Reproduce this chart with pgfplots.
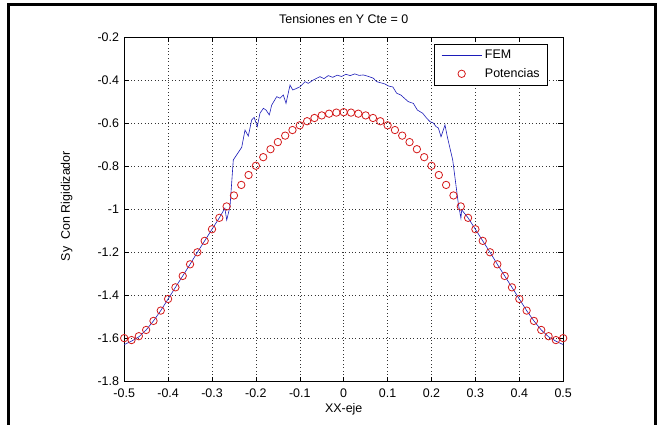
\documentclass[border=0pt]{standalone}
\usepackage{fontspec}
\setmainfont{Liberation Sans}
\usepackage{pgfplots}
\usepackage{pgfplotstable}
\pgfplotsset{compat=1.18}
\definecolor{femblue}{RGB}{28,28,185}
\definecolor{potred}{RGB}{212,25,25}

\pgfplotsset{
  femleg/.style={legend image code/.code={\draw[##1] (0bp,0bp) -- (40bp,0bp);}},
  potleg/.style={legend image code/.code={\draw[##1] plot coordinates {(20bp,0bp)};}},
}

\pgfplotstableread{
x y
-0.5000 -1.628
-0.4833 -1.612
-0.4667 -1.592
-0.4500 -1.560
-0.4333 -1.518
-0.4167 -1.470
-0.4000 -1.416
-0.3833 -1.362
-0.3667 -1.309
-0.3500 -1.255
-0.3333 -1.199
-0.3167 -1.146
-0.3000 -1.092
-0.2833 -1.039
-0.2707 -0.994
-0.2665 -1.049
-0.2590 -0.987
-0.2515 -0.770
-0.2323 -0.711
-0.2248 -0.631
-0.2173 -0.659
-0.2096 -0.584
-0.2040 -0.572
-0.1968 -0.615
-0.1907 -0.553
-0.1830 -0.530
-0.1770 -0.538
-0.1695 -0.561
-0.1640 -0.515
-0.1526 -0.476
-0.1450 -0.483
-0.1376 -0.468
-0.1314 -0.507
-0.1223 -0.422
-0.1160 -0.445
-0.1070 -0.437
-0.0995 -0.430
-0.0880 -0.406
-0.0806 -0.414
-0.0690 -0.398
-0.0540 -0.383
-0.0450 -0.392
-0.0350 -0.378
-0.0250 -0.386
-0.0150 -0.376
-0.0050 -0.382
 0.0050 -0.372
 0.0150 -0.378
 0.0250 -0.370
 0.0350 -0.377
 0.0447 -0.375
 0.0550 -0.381
 0.0674 -0.390
 0.0750 -0.406
 0.0940 -0.417
 0.1016 -0.426
 0.1120 -0.431
 0.1207 -0.460
 0.1300 -0.468
 0.1470 -0.499
 0.1586 -0.507
 0.1677 -0.538
 0.1800 -0.553
 0.1890 -0.576
 0.1966 -0.592
 0.2040 -0.598
 0.2103 -0.615
 0.2155 -0.621
 0.2217 -0.662
 0.2307 -0.607
 0.2360 -0.662
 0.2483 -0.770
 0.2610 -0.971
 0.2670 -1.041
 0.2688 -1.002
 0.2833 -1.039
 0.3000 -1.092
 0.3167 -1.146
 0.3333 -1.199
 0.3500 -1.255
 0.3667 -1.309
 0.3833 -1.362
 0.4000 -1.416
 0.4167 -1.470
 0.4333 -1.518
 0.4500 -1.560
 0.4667 -1.592
 0.4833 -1.612
 0.5000 -1.628
}\femdata

\pgfplotstableread{
x y
-0.5000 -1.598
-0.4833 -1.607
-0.4667 -1.589
-0.4500 -1.560
-0.4333 -1.518
-0.4167 -1.470
-0.4000 -1.416
-0.3833 -1.362
-0.3667 -1.309
-0.3500 -1.255
-0.3333 -1.199
-0.3167 -1.146
-0.3000 -1.092
-0.2833 -1.039
-0.2667 -0.986
-0.2500 -0.935
-0.2333 -0.886
-0.2167 -0.840
-0.2000 -0.797
-0.1833 -0.757
-0.1667 -0.720
-0.1500 -0.687
-0.1333 -0.657
-0.1167 -0.631
-0.1000 -0.609
-0.0833 -0.590
-0.0667 -0.575
-0.0500 -0.563
-0.0333 -0.555
-0.0167 -0.550
 0.0000 -0.548
 0.0167 -0.550
 0.0333 -0.555
 0.0500 -0.563
 0.0667 -0.575
 0.0833 -0.590
 0.1000 -0.609
 0.1167 -0.631
 0.1333 -0.657
 0.1500 -0.687
 0.1667 -0.720
 0.1833 -0.757
 0.2000 -0.797
 0.2167 -0.840
 0.2333 -0.886
 0.2500 -0.935
 0.2667 -0.986
 0.2833 -1.039
 0.3000 -1.092
 0.3167 -1.146
 0.3333 -1.199
 0.3500 -1.255
 0.3667 -1.309
 0.3833 -1.362
 0.4000 -1.416
 0.4167 -1.470
 0.4333 -1.518
 0.4500 -1.560
 0.4667 -1.589
 0.4833 -1.607
 0.5000 -1.598
}\potdata

\begin{document}
\begin{tikzpicture}
\useasboundingbox (0bp,0bp) rectangle (665bp,425bp);
\fill[white] (0bp,0bp) rectangle (665bp,425bp);
\draw[line width=3bp] (8bp,0bp) -- (8bp,420.5bp) -- (655.5bp,420.5bp) -- (655.5bp,0bp);
\begin{axis}[
  at={(124.2bp,43.4bp)}, anchor=south west,
  scale only axis, width=439bp, height=344.3bp,
  xmin=-0.5, xmax=0.5, ymin=-1.8, ymax=-0.2,
  clip=false,
  xtick={-0.5,-0.4,-0.3,-0.2,-0.1,0,0.1,0.2,0.3,0.4,0.5},
  xticklabels={-0.5,-0.4,-0.3,-0.2,-0.1,0,0.1,0.2,0.3,0.4,0.5},
  ytick={-1.8,-1.6,-1.4,-1.2,-1,-0.8,-0.6,-0.4,-0.2},
  yticklabels={-1.8,-1.6,-1.4,-1.2,-1,-0.8,-0.6,-0.4,-0.2},
  tick align=inside, tick pos=both, major tick length=5bp,
  every tick/.style={black, line width=0.6bp},
  grid=major,
  major grid style={dash pattern=on 0.8bp off 2.6bp, black!80, line width=0.6bp},
  axis line style={line width=0.8bp},
  tick label style={font=\fontsize{12.5}{14}\selectfont},
  xticklabel style={inner sep=0pt, anchor=north, yshift=-7.5bp},
  yticklabel style={inner sep=0pt, anchor=east, xshift=-5bp},
  title={Tensiones en Y Cte = 0},
  title style={at={(axis description cs:0.5,1.036)}, anchor=center, yshift=0pt, inner sep=0pt, font=\fontsize{12.5}{14}\selectfont},
  xlabel={XX-eje},
  xlabel style={at={(axis description cs:0.5,-0.080)}, anchor=center, inner sep=0pt, font=\fontsize{12.5}{14}\selectfont},
  ylabel={Sy~~Con Rigidizador},
  ylabel style={at={(axis description cs:-0.131,0.51)}, anchor=center, inner sep=0pt, font=\fontsize{12.5}{14}\selectfont},
  legend style={at={(axis description cs:0.9654,0.9805)}, anchor=north east,
    draw=black, line width=0.7bp, font=\fontsize{12.5}{14}\selectfont,
    inner xsep=7bp, inner ysep=4.5bp, row sep=4.7bp,
    nodes={inner sep=1bp, text height=9bp, text depth=2.5bp}},
  legend cell align=left,
]
\addplot[femblue, line width=0.6bp, no marks, femleg] table[x=x,y=y] {\femdata};
\addlegendentry{\hspace{2bp}FEM}
\addplot[potred, only marks, mark=o, mark size=3.7bp, mark options={line width=0.8bp}, potleg] table[x=x,y=y] {\potdata};
\addlegendentry{\hspace{2bp}Potencias\hspace{4bp}}
\end{axis}
\end{tikzpicture}
\end{document}
